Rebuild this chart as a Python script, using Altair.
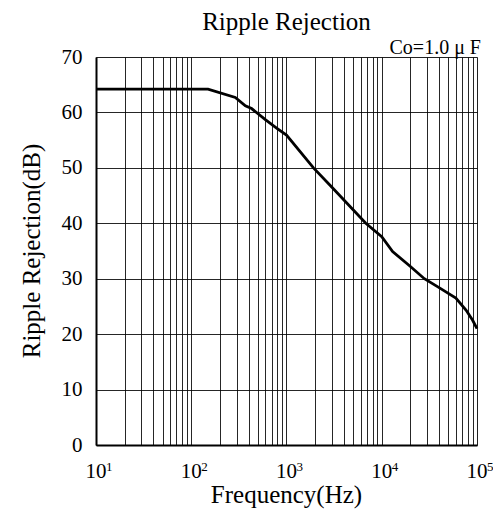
import altair as alt
import pandas as pd

# Curve data
freq_hz = [10, 150, 290, 370, 430, 600, 800, 1000, 1920, 3000, 6800,
           10000, 13000, 20000, 28000, 40000, 60000, 77000, 90000, 100000]
rejection_db = [64.2, 64.2, 62.7, 61.2, 60.7, 58.7, 57.1, 55.9, 50.0, 46.5, 40.0,
                37.6, 34.9, 32.2, 30.0, 28.4, 26.5, 24.3, 22.5, 21.0]

# Axis ticks and labels
decade_ticks = [10, 100, 1000, 10000, 100000]
decade_base = ["10", "10", "10", "10", "10"]
decade_exp = ["1", "2", "3", "4", "5"]
minor_steps = [1, 2, 3, 4, 5, 6, 7, 8, 9]
y_ticks = [0, 10, 20, 30, 40, 50, 60, 70]

title_text = "Ripple Rejection"
note_text = "Co=1.0 μ F"
x_title = "Frequency(Hz)"
y_title = "Ripple Rejection(dB)"

FONT = "Liberation Serif"
W, H = 381, 388

grid_values = [m * d for d in decade_ticks[:-1] for m in minor_steps] + [decade_ticks[-1]]
xscale = alt.Scale(type="log", domain=[10, 100000], nice=False)

x_axis = alt.Axis(
    values=grid_values,
    labels=False,
    ticks=False,
    grid=True,
    gridColor="#000000",
    gridWidth=1,
    gridOpacity=0.85,
    domainColor="#000000",
    domainWidth=2,
    title=None,
)

df = pd.DataFrame({"f": freq_hz, "db": rejection_db})
ticks_df = pd.DataFrame({"f": decade_ticks, "base": decade_base, "exp": decade_exp})

x_enc = alt.X("f:Q", scale=xscale, axis=x_axis)

y_enc = alt.Y(
    "db:Q",
    scale=alt.Scale(domain=[0, 70], nice=False),
    axis=alt.Axis(
        values=y_ticks,
        ticks=False,
        grid=True,
        gridColor="#000000",
        gridWidth=1,
        gridOpacity=0.85,
        domainColor="#000000",
        domainWidth=2,
        labelFont=FONT,
        labelFontSize=21,
        labelColor="#000000",
        labelPadding=14,
        title=None,
    ),
)

line = alt.Chart(df).mark_line(color="#000000", strokeWidth=2.8).encode(x=x_enc, y=y_enc)

tick_base = alt.Chart(ticks_df).mark_text(
    font=FONT, fontSize=21, align="center", baseline="alphabetic", color="#000000"
).encode(x=alt.X("f:Q", scale=xscale, axis=x_axis), y=alt.value(H + 33), text="base:N")

tick_exp = alt.Chart(ticks_df).mark_text(
    font=FONT, fontSize=13, align="left", baseline="alphabetic", color="#000000", dx=10
).encode(x=alt.X("f:Q", scale=xscale, axis=x_axis), y=alt.value(H + 26), text="exp:N")


def label(text, x, y, size, align="center", angle=0):
    return alt.Chart(pd.DataFrame({"t": [text]})).mark_text(
        font=FONT, fontSize=size, align=align, baseline="alphabetic",
        color="#000000", angle=angle,
    ).encode(x=alt.value(x), y=alt.value(y), text="t:N")


title = label(title_text, W / 2, -27, 25)
note = label(note_text, W + 4, -3, 20, align="right")
xt = label(x_title, W / 2, H + 58, 25)
yt = label(y_title, -56, H / 2, 25, angle=270)

chart = (
    alt.layer(line, tick_base, tick_exp, title, note, xt, yt)
    .properties(
        width=W,
        height=H,
        padding={"left": 88, "top": 49, "right": 16, "bottom": 64},
        autosize=alt.AutoSizeParams(type="none"),
    )
    .configure_view(stroke="#000000", strokeWidth=1.2)
    .configure(background="#ffffff")
)

chart.save("out.html", embed_options={"renderer": "svg", "actions": False})
